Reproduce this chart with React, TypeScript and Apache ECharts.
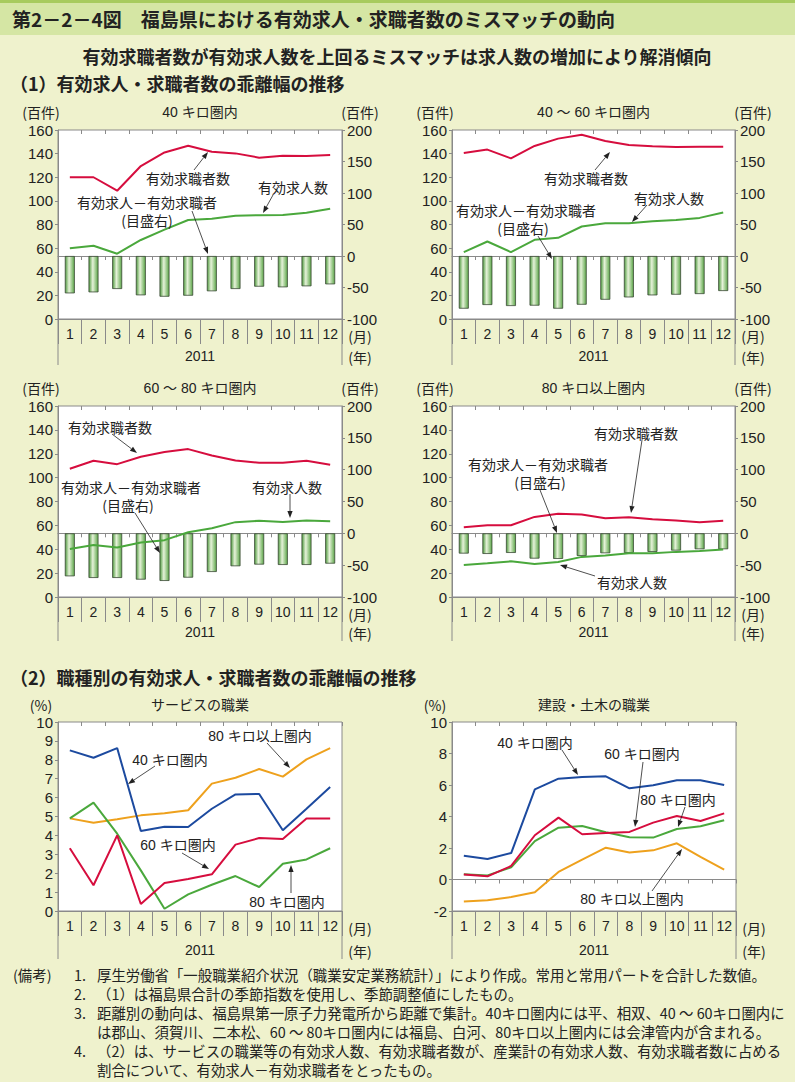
import React, { useEffect, useRef } from "react";
import * as echarts from "echarts";

// ---------- DATA ----------
const months = ["1", "2", "3", "4", "5", "6", "7", "8", "9", "10", "11", "12"];
const yearLabel = "2011";

// (1) 40キロ圏内
const p1Seekers = [120, 120, 108.6, 129.5, 141, 146.7, 141.6, 140.2, 136.6, 138.3, 138, 138.8];
const p1Openings = [59.8, 62, 55.3, 66.9, 75.6, 83.8, 84.9, 87.5, 87.8, 88, 90, 93.4];
const p1Gap = [-59.3, -57.7, -52.4, -62.4, -64.6, -63, -56, -52.4, -48.7, -49.7, -48.1, -45];

// (1) 40～60キロ圏内
const p2Seekers = [140.6, 143.4, 136, 146.5, 152.7, 156, 150.7, 147.3, 146.2, 145.6, 145.9, 145.9];
const p2Openings = [56.6, 65.6, 56.6, 67, 68.7, 78.3, 81.1, 81.1, 82.8, 83.9, 85.6, 90.1];
const p2Gap = [-83.6, -77.8, -79.4, -78.8, -83.6, -77.3, -69.4, -65.7, -62.5, -61.4, -60.4, -55.6];

// (1) 60～80キロ圏内
const p3Seekers = [107.4, 114.1, 111.3, 117.5, 121.4, 123.9, 118.6, 114.4, 112.4, 112.4, 114.1, 110.8];
const p3Openings = [40.3, 43.6, 41.4, 45.6, 47.6, 54.3, 57.6, 62.7, 63.8, 62.9, 64, 63.5];
const p3Gap = [-67.5, -70.1, -70.1, -72.7, -74.8, -69.6, -60.7, -51.7, -49.1, -49.7, -49.7, -47.6];

// (1) 80キロ以上圏内
const p4Seekers = [58.5, 60.1, 60.1, 67.1, 69.7, 69.1, 66, 66.9, 65.2, 64.1, 62.7, 63.8];
const p4Openings = [26.9, 28.3, 29.9, 27.7, 29.4, 33.6, 34.7, 36.6, 36.6, 37.8, 38.6, 39.7];
const p4Gap = [-31.8, -32.4, -30.8, -39.7, -40.2, -35.5, -31.3, -30.8, -29.2, -27.1, -25, -25];

// (2) サービスの職業
const svc40 = [8.5, 8.11, 8.62, 4.23, 4.46, 4.44, 5.41, 6.17, 6.19, 4.27, 5.41, 6.56];
const svc60 = [3.32, 1.36, 4.0, 0.37, 1.48, 1.69, 1.94, 3.51, 3.86, 3.81, 4.89, 4.89];
const svc80 = [4.9, 5.73, 4.09, 2.15, 0.12, 0.88, 1.39, 1.85, 1.27, 2.5, 2.73, 3.32];
const svc80plus = [4.9, 4.67, 4.85, 5.06, 5.17, 5.33, 6.74, 7.05, 7.51, 7.11, 8.02, 8.62];

// (2) 建設・土木の職業
const con40 = [1.51, 1.3, 1.68, 5.72, 6.4, 6.51, 6.55, 5.79, 5.98, 6.3, 6.3, 6.0];
const con60 = [0.31, 0.2, 0.86, 2.81, 3.93, 2.87, 2.95, 3.02, 3.61, 4.03, 3.71, 4.2];
const con80 = [0.33, 0.26, 0.77, 2.44, 3.29, 3.4, 3.0, 2.68, 2.66, 3.21, 3.38, 3.76];
const con80plus = [-1.39, -1.32, -1.11, -0.81, 0.48, 1.26, 2.02, 1.72, 1.85, 2.3, 1.43, 0.62];

// axis ranges / ticks
const leftAxis1 = { min: 0, max: 160, interval: 20 };
const rightAxis1 = { min: -100, max: 200, interval: 50 };
const svcAxis = { min: 0, max: 10, interval: 1 };
const conAxis = { min: -2, max: 10, interval: 2 };

// ---------- STYLE / LAYOUT ----------
const RED = "#d60d3e";
const GREEN = "#4aa83c";
const BLUE = "#1c4a9f";
const ORANGE = "#eea11d";
const AXIS = "#8a8a8a";
const INK = "#222";
const PAPER = "#eff2cd";
const NUM = "'Liberation Sans', Arial, 'Noto Sans CJK JP', sans-serif";
const JP = "'Noto Sans CJK JP', 'Noto Sans CJK SC', sans-serif";

const grids = [
  { left: 58, top: 130, width: 284, height: 189, ext: 46 },
  { left: 452, top: 130, width: 283, height: 189, ext: 46 },
  { left: 58, top: 406, width: 284, height: 191, ext: 44 },
  { left: 452, top: 406, width: 283, height: 191, ext: 44 },
  { left: 58, top: 722, width: 284, height: 189, ext: 48 },
  { left: 452, top: 722, width: 284, height: 189, ext: 48 },
];

function txt(x: number, y: number, text: string, size = 14, opts: any = {}) {
  return {
    type: "text",
    x,
    y,
    z: 100,
    silent: true,
    style: {
      text,
      fill: opts.fill || INK,
      fontSize: size,
      fontFamily: opts.family || NUM,
      fontWeight: opts.weight || "normal",
      align: opts.align || "center",
      verticalAlign: "middle",
    },
  };
}

function arrow(x1: number, y1: number, x2: number, y2: number) {
  const ang = Math.atan2(y2 - y1, x2 - x1);
  const L = 7;
  const W = 2.6;
  const bx = x2 - L * Math.cos(ang);
  const by = y2 - L * Math.sin(ang);
  const px = -Math.sin(ang) * W;
  const py = Math.cos(ang) * W;
  return [
    { type: "line", z: 100, silent: true, shape: { x1, y1, x2: bx, y2: by }, style: { stroke: INK, lineWidth: 0.8 } },
    {
      type: "polygon",
      z: 100,
      silent: true,
      shape: { points: [[x2, y2], [bx + px, by + py], [bx - px, by - py]] },
      style: { fill: INK },
    },
  ];
}

function buildOption() {
  const grid = grids.map((g) => ({
    left: g.left,
    top: g.top,
    width: g.width,
    height: g.height,
    show: true,
    backgroundColor: "#ffffff",
    borderColor: AXIS,
    borderWidth: 1,
    containLabel: false,
  }));

  const xAxis: any[] = [];
  const yAxis: any[] = [];
  const yCommon = (gi: number, pos: string, r: any) => ({
    type: "value",
    gridIndex: gi,
    position: pos,
    min: r.min,
    max: r.max,
    interval: r.interval,
    axisLine: { show: true, onZero: false, lineStyle: { color: AXIS, width: 1 } },
    axisTick: { show: true, length: 3, lineStyle: { color: AXIS } },
    axisLabel: { fontSize: 15, color: INK, margin: 5, fontFamily: NUM },
    splitLine: { show: false },
  });
  for (let g = 0; g < 4; g++) {
    yAxis.push(yCommon(g, "left", leftAxis1));
    yAxis.push(yCommon(g, "right", rightAxis1));
  }
  yAxis.push(yCommon(4, "left", svcAxis)); // index 8
  yAxis.push(yCommon(5, "left", conAxis)); // index 9

  const zeroAxisIndex = [1, 3, 5, 7, -1, 9];
  for (let g = 0; g < 6; g++) {
    xAxis.push({
      type: "category",
      gridIndex: g,
      data: months,
      position: "bottom",
      boundaryGap: true,
      axisLine: { onZero: false, lineStyle: { color: AXIS, width: 1 } },
      axisTick: { show: true, length: 25, interval: 0, lineStyle: { color: AXIS } },
      axisLabel: { fontSize: 14, color: INK, margin: 8, interval: 0, fontFamily: NUM },
      splitLine: { show: false },
    });
    xAxis.push({
      type: "category",
      gridIndex: g,
      data: months,
      position: "bottom",
      show: zeroAxisIndex[g] >= 0,
      boundaryGap: true,
      axisLine: {
        show: true,
        onZero: zeroAxisIndex[g] >= 0,
        onZeroAxisIndex: zeroAxisIndex[g] >= 0 ? zeroAxisIndex[g] : undefined,
        lineStyle: { color: AXIS, width: 1 },
      },
      axisTick: { show: true, length: 4, interval: 0, lineStyle: { color: AXIS } },
      axisLabel: { show: false },
      splitLine: { show: false },
    });
    xAxis.push({
      type: "category",
      gridIndex: g,
      data: months,
      position: "top",
      boundaryGap: true,
      axisLine: { show: false, onZero: false },
      axisTick: { show: true, inside: true, length: 4, interval: 0, lineStyle: { color: AXIS } },
      axisLabel: { show: false },
      splitLine: { show: false },
    });
  }

  const barColor = new echarts.graphic.LinearGradient(0, 0, 1, 0, [
    { offset: 0, color: "#4f9b3f" },
    { offset: 0.42, color: "#e6f2d9" },
    { offset: 1, color: "#5ba648" },
  ]);

  const series: any[] = [];
  const panel1 = [
    [p1Seekers, p1Openings, p1Gap],
    [p2Seekers, p2Openings, p2Gap],
    [p3Seekers, p3Openings, p3Gap],
    [p4Seekers, p4Openings, p4Gap],
  ];
  panel1.forEach(([seek, open, gap], g) => {
    series.push({
      type: "bar",
      name: "有効求人－有効求職者",
      xAxisIndex: g * 3,
      yAxisIndex: g * 2 + 1,
      data: gap,
      barWidth: 10,
      itemStyle: { color: barColor, borderColor: "#3b4a36", borderWidth: 0.8 },
      z: 2,
    });
    series.push({
      type: "line",
      name: "有効求職者数",
      xAxisIndex: g * 3,
      yAxisIndex: g * 2,
      data: seek,
      symbol: "none",
      lineStyle: { color: RED, width: 2 },
      z: 3,
    });
    series.push({
      type: "line",
      name: "有効求人数",
      xAxisIndex: g * 3,
      yAxisIndex: g * 2,
      data: open,
      symbol: "none",
      lineStyle: { color: GREEN, width: 2 },
      z: 3,
    });
  });

  const lineSeries = (name: string, data: number[], color: string, xi: number, yi: number) => ({
    type: "line",
    name,
    xAxisIndex: xi,
    yAxisIndex: yi,
    data,
    symbol: "none",
    lineStyle: { color, width: 2 },
    z: 3,
  });
  series.push(lineSeries("80キロ以上圏内", svc80plus, ORANGE, 12, 8));
  series.push(lineSeries("80キロ圏内", svc80, GREEN, 12, 8));
  series.push(lineSeries("60キロ圏内", svc60, RED, 12, 8));
  series.push(lineSeries("40キロ圏内", svc40, BLUE, 12, 8));
  series.push(lineSeries("80キロ以上圏内", con80plus, ORANGE, 15, 9));
  series.push(lineSeries("80キロ圏内", con80, GREEN, 15, 9));
  series.push(lineSeries("60キロ圏内", con60, RED, 15, 9));
  series.push(lineSeries("40キロ圏内", con40, BLUE, 15, 9));

  // ---------- graphics ----------
  const gr: any[] = [];
  gr.push({ type: "rect", z: 1, silent: true, shape: { x: 0, y: 0, width: 795, height: 35 }, style: { fill: "#d5e6a4" } });
  gr.push({ type: "rect", z: 1, silent: true, shape: { x: 0, y: 0, width: 795, height: 3 }, style: { fill: "#a7cb5d" } });
  gr.push(txt(12, 18, "第2－2－4図　福島県における有効求人・求職者数のミスマッチの動向", 19, { align: "left", weight: "bold", family: JP }));
  gr.push(txt(397, 56, "有効求職者数が有効求人数を上回るミスマッチは求人数の増加により解消傾向", 18, { weight: "bold", family: JP }));
  gr.push(txt(10, 83, "（1）有効求人・求職者数の乖離幅の推移", 18, { align: "left", weight: "bold", family: JP }));
  gr.push(txt(10, 677, "（2）職種別の有効求人・求職者数の乖離幅の推移", 18, { align: "left", weight: "bold", family: JP }));

  const headY = [112, 112, 388, 388, 705, 705];
  const titles = ["40 キロ圏内", "40 ～ 60 キロ圏内", "60 ～ 80 キロ圏内", "80 キロ以上圏内", "サービスの職業", "建設・土木の職業"];
  grids.forEach((g, i) => {
    const bottom = g.top + g.height;
    const right = g.left + g.width;
    gr.push({ type: "line", z: 50, silent: true, shape: { x1: g.left, y1: bottom, x2: g.left, y2: bottom + g.ext }, style: { stroke: AXIS, lineWidth: 1 } });
    gr.push({ type: "line", z: 50, silent: true, shape: { x1: right, y1: bottom, x2: right, y2: bottom + g.ext }, style: { stroke: AXIS, lineWidth: 1 } });
    const cx = g.left + g.width / 2;
    gr.push(txt(cx, headY[i], titles[i], 14));
    const unitL = i < 4 ? "(百件)" : "(%)";
    gr.push(txt(g.left - 17, headY[i], unitL, 14, { family: JP }));
    if (i < 4) gr.push(txt(right + 18, headY[i], "(百件)", 14, { family: JP }));
    const monthY = bottom + 17;
    const yearY = bottom + g.ext - 8;
    gr.push(txt(right + 18, monthY, "(月)", 14, { family: JP }));
    gr.push(txt(right + 18, yearY, "(年)", 14, { family: JP }));
    gr.push(txt(cx, yearY - 1, yearLabel, 14));
  });

  // annotations
  const notes: [number, number, string][] = [
    [188, 178, "有効求職者数"],
    [293, 187, "有効求人数"],
    [147, 202, "有効求人－有効求職者"],
    [147, 220, "(目盛右)"],
    [586, 178, "有効求職者数"],
    [669, 198, "有効求人数"],
    [526, 210, "有効求人－有効求職者"],
    [523, 228, "(目盛右)"],
    [110, 427, "有効求職者数"],
    [287, 487, "有効求人数"],
    [131, 487, "有効求人－有効求職者"],
    [128, 505, "(目盛右)"],
    [636, 433, "有効求職者数"],
    [538, 464, "有効求人－有効求職者"],
    [540, 482, "(目盛右)"],
    [632, 582, "有効求人数"],
    [260, 736, "80 キロ以上圏内"],
    [170, 760, "40 キロ圏内"],
    [178, 845, "60 キロ圏内"],
    [287, 902, "80 キロ圏内"],
    [535, 743, "40 キロ圏内"],
    [642, 754, "60 キロ圏内"],
    [678, 800, "80 キロ圏内"],
    [632, 899, "80 キロ以上圏内"],
  ];
  notes.forEach(([x, y, t]) => gr.push(txt(x, y, t, 14, { family: t.indexOf("キロ") >= 0 ? NUM : JP })));
  const arrows: [number, number, number, number][] = [
    [194, 170, 208, 152],
    [273, 195, 263, 213],
    [192, 211, 208, 254],
    [595, 170, 610, 152],
    [647, 205, 632, 222],
    [538, 236, 552, 259],
    [112, 434, 137, 453],
    [290, 494, 290, 518],
    [135, 513, 160, 553],
    [642, 440, 631, 513],
    [540, 490, 557, 533],
    [595, 576, 560, 565],
    [267, 743, 290, 768],
    [155, 766, 128, 784],
    [182, 853, 209, 869],
    [291, 893, 291, 865],
    [562, 750, 578, 775],
    [643, 762, 635, 827],
    [685, 807, 678, 827],
    [652, 891, 682, 849],
  ];
  arrows.forEach(([a, b, c, d]) => arrow(a, b, c, d).forEach((e) => gr.push(e)));

  // footnotes
  const noteFont = 14.4;
  const ny = [974, 993, 1012, 1031, 1050, 1069];
  gr.push(txt(13, ny[0], "(備考)", noteFont, { align: "left", family: JP }));
  gr.push(txt(74, ny[0], "1.", noteFont, { align: "left", family: JP }));
  gr.push(txt(74, ny[1], "2.", noteFont, { align: "left", family: JP }));
  gr.push(txt(74, ny[2], "3.", noteFont, { align: "left", family: JP }));
  gr.push(txt(74, ny[4], "4.", noteFont, { align: "left", family: JP }));
  const noteLines = [
    "厚生労働省「一般職業紹介状況（職業安定業務統計）」により作成。常用と常用パートを合計した数値。",
    "（1）は福島県合計の季節指数を使用し、季節調整値にしたもの。",
    "距離別の動向は、福島県第一原子力発電所から距離で集計。40キロ圏内には平、相双、40 ～ 60キロ圏内に",
    "は郡山、須賀川、二本松、60 ～ 80キロ圏内には福島、白河、80キロ以上圏内には会津管内が含まれる。",
    "（2）は、サービスの職業等の有効求人数、有効求職者数が、産業計の有効求人数、有効求職者数に占める",
    "割合について、有効求人－有効求職者をとったもの。",
  ];
  noteLines.forEach((t, i) => gr.push(txt(97, ny[i], t, noteFont, { align: "left", family: JP })));

  return {
    animation: false,
    backgroundColor: PAPER,
    grid,
    xAxis,
    yAxis,
    series,
    graphic: { elements: gr },
  };
}

export default function App() {
  const ref = useRef<HTMLDivElement>(null);
  useEffect(() => {
    if (!ref.current) return;
    const chart = echarts.init(ref.current, undefined, { renderer: "svg", width: 795, height: 1082 });
    chart.setOption(buildOption() as any);
    return () => chart.dispose();
  }, []);
  return (
    <div style={{ position: "absolute", left: 0, top: 0, width: 795, height: 1082, background: PAPER }}>
      <div ref={ref} style={{ width: 795, height: 1082 }} />
    </div>
  );
}
